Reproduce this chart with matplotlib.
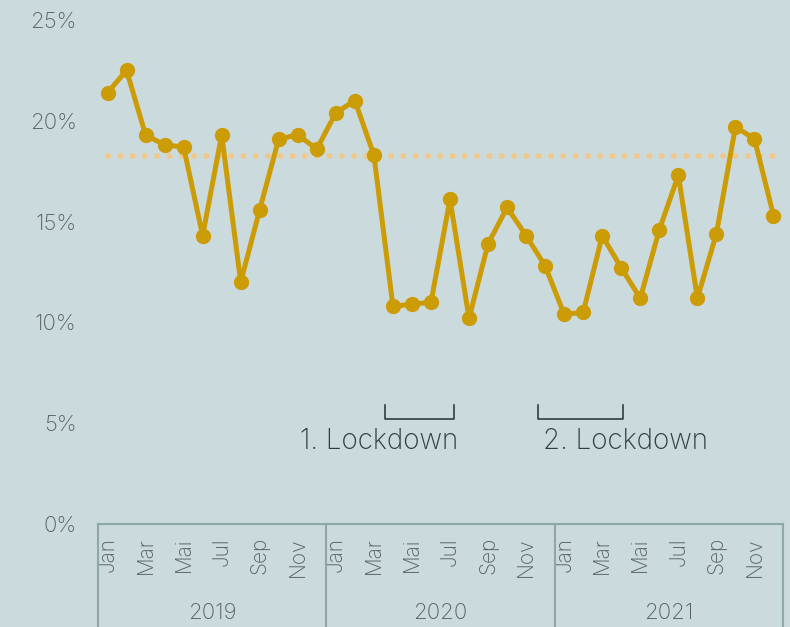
import matplotlib.pyplot as plt
import matplotlib.transforms as mtransforms
import numpy as np

# --- DATA ---
YEARS = ['2019', '2020', '2021']
MONTH_LABELS = ['Jan', 'Mar', 'Mai', 'Jul', 'Sep', 'Nov']
VALUES = [21.4, 22.5, 19.3, 18.8, 18.7, 14.3, 19.3, 12.0, 15.6, 19.1, 19.3, 18.6,
          20.4, 21.0, 18.3, 10.8, 10.9, 11.0, 16.1, 10.2, 13.9, 15.7, 14.3, 12.8,
          10.4, 10.5, 14.3, 12.7, 11.2, 14.6, 17.3, 11.2, 14.4, 19.7, 19.1, 15.3]
MEAN_LINE = 18.25
# label, bracket start, bracket end, label centre (month index)
LOCKDOWNS = [('1. Lockdown', 14.6, 18.2, 14.25), ('2. Lockdown', 22.6, 27.1, 27.2)]

# --- STYLE ---
BG = '#cbdadd'
GOLD = '#cc9c06'
DOTS = '#f0c88a'
TICK = '#585f61'
DARK = '#2d3d42'
FRAME = '#8fa6ab'
plt.rcParams['font.family'] = ['Inter', 'DejaVu Sans']
plt.rcParams['font.weight'] = 'light'

fig = plt.figure(figsize=(7.9, 6.27), dpi=100, facecolor=BG)
ax = fig.add_axes([98 / 790, 1 - 524 / 627, 685 / 790, 504 / 627])
ax.set_facecolor(BG)

x = np.arange(len(VALUES))
ax.plot(x, [MEAN_LINE] * len(x), linestyle=(0, (0.01, 2.05)), dash_capstyle='round',
        color=DOTS, lw=4.3, zorder=1)
ax.plot(x, VALUES, color=GOLD, lw=3.6, marker='o', markersize=10, zorder=2)

ax.set_xlim(-0.5, 35.5)
ax.set_ylim(0, 25)
for s in ax.spines.values():
    s.set_visible(False)

ax.set_yticks([0, 5, 10, 15, 20, 25])
ax.set_yticklabels([f'{v}%' for v in [0, 5, 10, 15, 20, 25]])
ax.tick_params(axis='y', length=0, pad=15.5, labelsize=16, labelcolor=TICK)

ax.set_xticks(np.arange(0, 36, 2))
ax.set_xticklabels(MONTH_LABELS * 3, rotation=90, va='top', ha='center')
ax.tick_params(axis='x', length=0, pad=9.5, labelsize=15, labelcolor=TICK)

# year boxes
trans = mtransforms.blended_transform_factory(ax.transData, ax.transAxes)
ax.plot([-0.5, 35.5], [0, 0], color=FRAME, lw=1.5, transform=trans, clip_on=False)
for b in [-0.5, 11.5, 23.5, 35.5]:
    ax.plot([b, b], [0, -0.3], color=FRAME, lw=1.5, transform=trans, clip_on=False)
for i, yr in enumerate(YEARS):
    ax.text(5.5 + 12 * i, -0.176, yr, transform=trans, ha='center', va='center',
            fontsize=16, color=TICK)

# lockdown brackets
for label, x0, x1, xc in LOCKDOWNS:
    ax.plot([x0, x0, x1, x1], [5.9, 5.22, 5.22, 5.9], color=DARK, lw=1.2)
    ax.text(xc, 4.1, label, ha='center', va='center', fontsize=20, color=DARK)

fig.savefig('out.png', dpi=100, facecolor=BG)
